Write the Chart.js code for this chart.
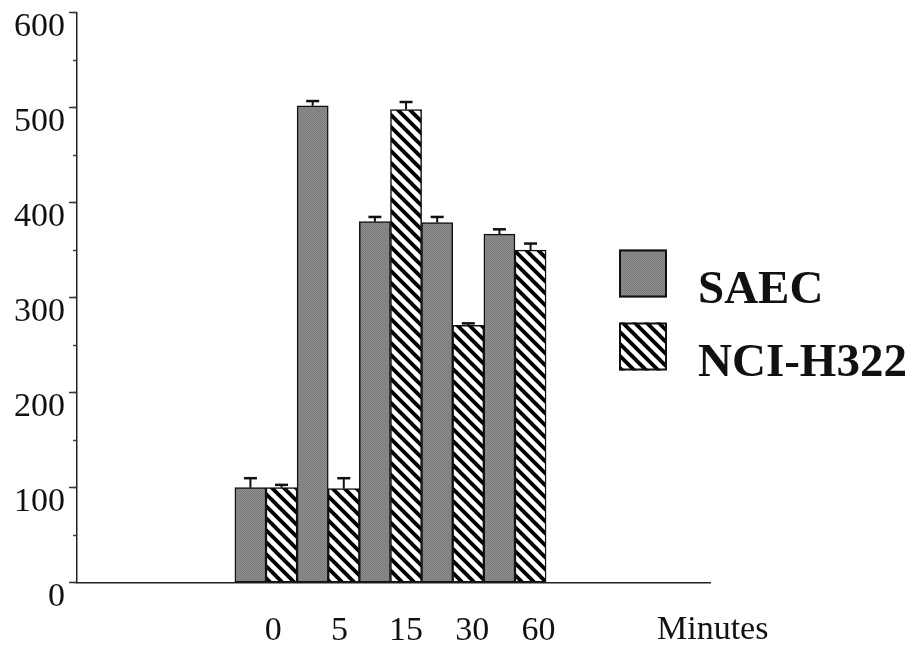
<!DOCTYPE html>
<html>
<head>
<meta charset="utf-8">
<script src="https://cdn.jsdelivr.net/npm/chart.js@4/dist/chart.umd.min.js"></script>
<style>
  html, body { margin: 0; padding: 0; background: #ffffff; }
  #wrap { width: 912px; height: 645px; }
</style>
</head>
<body>
<div id="wrap"><canvas id="chart" width="912" height="645"></canvas></div>
<script>
// Time points (minutes) and the two cell lines
const minutes = ['0', '5', '15', '30', '60'];
const seriesNames = ['SAEC', 'NCI-H322'];

// Mean values and error (upper bar) per time point
const saecValues = [100, 502, 380, 379, 367];
const saecErrors = [10, 5, 5, 6, 5];
const nciValues = [100, 99, 498, 271, 350];
const nciErrors = [3, 11, 8, 2, 7];

// Y axis
const yMin = 0;
const yMax = 600;
const yMajorStep = 100;
const yMinorStep = 50;

const SERIF = '"Liberation Serif", "Times New Roman", serif';

// Stippled grey fill
function makeStipple() {
  const c = document.createElement('canvas');
  c.width = 2; c.height = 2;
  const g = c.getContext('2d');
  g.fillStyle = '#8e8e8e'; g.fillRect(0, 0, 2, 2);
  g.fillStyle = '#7a7a7a'; g.fillRect(0, 0, 1, 1); g.fillRect(1, 1, 1, 1);
  return g.createPattern(c, 'repeat');
}

// Diagonal hatch (lines running down to the right)
function makeHatch() {
  const p = 12;
  const c = document.createElement('canvas');
  c.width = p; c.height = p;
  const g = c.getContext('2d');
  g.fillStyle = '#ffffff'; g.fillRect(0, 0, p, p);
  g.strokeStyle = '#000000';
  g.lineWidth = 3.8;
  g.beginPath();
  g.moveTo(-p, -p); g.lineTo(2 * p, 2 * p);
  g.moveTo(-p, 0); g.lineTo(p, 2 * p);
  g.moveTo(0, -p); g.lineTo(2 * p, p);
  g.stroke();
  return g.createPattern(c, 'repeat');
}

const stipple = makeStipple();
const hatch = makeHatch();

// Upper error bars with caps
const errorBars = {
  id: 'errorBars',
  afterDatasetsDraw(chart) {
    const ctx = chart.ctx;
    const yScale = chart.scales.y;
    ctx.save();
    ctx.strokeStyle = '#111111';
    chart.data.datasets.forEach((ds, i) => {
      const meta = chart.getDatasetMeta(i);
      meta.data.forEach((bar, j) => {
        const v = ds.data[j].y;
        const top = yScale.getPixelForValue(v + ds.errors[j]);
        ctx.lineWidth = 2;
        ctx.beginPath();
        ctx.moveTo(bar.x, bar.y);
        ctx.lineTo(bar.x, top);
        ctx.stroke();
        ctx.lineWidth = 2.5;
        ctx.beginPath();
        ctx.moveTo(bar.x - 6.5, top);
        ctx.lineTo(bar.x + 6.5, top);
        ctx.stroke();
      });
    });
    ctx.restore();
  }
};

// Legend at the right and the "Minutes" axis caption
const sideLegend = {
  id: 'sideLegend',
  afterDraw(chart) {
    const ctx = chart.ctx;
    ctx.save();
    const boxX = 619, boxSize = 48, firstTop = 249.5, rowStep = 73;
    chart.data.datasets.forEach((ds, i) => {
      const top = firstTop + i * rowStep;
      ctx.fillStyle = ds.backgroundColor;
      ctx.fillRect(boxX, top, boxSize, boxSize);
      ctx.lineWidth = 2;
      ctx.strokeStyle = '#111111';
      ctx.strokeRect(boxX + 1, top + 1, boxSize - 2, boxSize - 2);
      ctx.fillStyle = '#111111';
      ctx.font = '700 47px ' + SERIF;
      ctx.textAlign = 'left';
      ctx.textBaseline = 'alphabetic';
      ctx.fillText(ds.label, 698, top + 53);
    });
    ctx.font = '34px ' + SERIF;
    ctx.textAlign = 'left';
    ctx.textBaseline = 'alphabetic';
    ctx.fillStyle = '#111111';
    ctx.fillText('Minutes', 657, 639);
    ctx.restore();
  }
};

new Chart(document.getElementById('chart'), {
  type: 'bar',
  data: {
    datasets: [
      {
        label: seriesNames[0],
        data: saecValues.map((v, i) => ({ x: i, y: v })),
        errors: saecErrors,
        backgroundColor: stipple,
        borderColor: '#111111',
        borderWidth: 1.5,
        borderSkipped: false
      },
      {
        label: seriesNames[1],
        data: nciValues.map((v, i) => ({ x: i, y: v })),
        errors: nciErrors,
        backgroundColor: hatch,
        borderColor: '#111111',
        borderWidth: 1.5,
        borderSkipped: false
      }
    ]
  },
  options: {
    responsive: false,
    animation: false,
    devicePixelRatio: 1,
    categoryPercentage: 1,
    barPercentage: 1,
    layout: { padding: { top: 12.7, right: 202, bottom: 0, left: 0 } },
    plugins: {
      legend: { display: false },
      tooltip: { enabled: false }
    },
    scales: {
      x: {
        type: 'linear',
        position: 'bottom',
        min: -3.036,
        max: 7.133,
        offset: false,
        ticks: { display: false },
        grid: { display: true, drawOnChartArea: false, drawTicks: false, offset: false },
        border: { display: true, color: '#222222', width: 1.5 },
        afterFit(s) { s.height = 0; s.paddingLeft = 0; s.paddingRight = 0; }
      },
      xLabels: {
        type: 'linear',
        position: 'bottom',
        min: -2.961,
        max: 6.587,
        offset: false,
        grid: { display: false, drawTicks: false },
        border: { display: false },
        ticks: {
          padding: 28,
          color: '#111111',
          font: { family: SERIF, size: 34 },
          maxRotation: 0,
          autoSkip: false,
          callback: (v) => minutes[v]
        },
        afterBuildTicks(s) { s.ticks = minutes.map((m, i) => ({ value: i })); },
        afterFit(s) { s.height = 62.3; s.paddingLeft = 0; s.paddingRight = 0; }
      },
      y: {
        position: 'left',
        weight: 1,
        min: yMin,
        max: yMax,
        ticks: {
          stepSize: yMajorStep,
          padding: 4,
          labelOffset: 14,
          color: '#111111',
          font: { family: SERIF, size: 34 }
        },
        grid: { drawOnChartArea: false, tickLength: 8, tickColor: '#333333', tickWidth: 1.5 },
        border: { display: true, color: '#222222', width: 1.5 },
        afterFit(s) { s.width = 77; s.paddingTop = 0; s.paddingBottom = 0; }
      },
      yMinor: {
        position: 'left',
        weight: 0,
        min: yMin,
        max: yMax,
        ticks: { display: false, stepSize: yMinorStep },
        grid: { drawOnChartArea: false, tickLength: 4, tickColor: '#444444', tickWidth: 1.5 },
        border: { display: false },
        afterFit(s) { s.width = 0; s.paddingTop = 0; s.paddingBottom = 0; }
      }
    }
  },
  plugins: [errorBars, sideLegend]
});
</script>
</body>
</html>
